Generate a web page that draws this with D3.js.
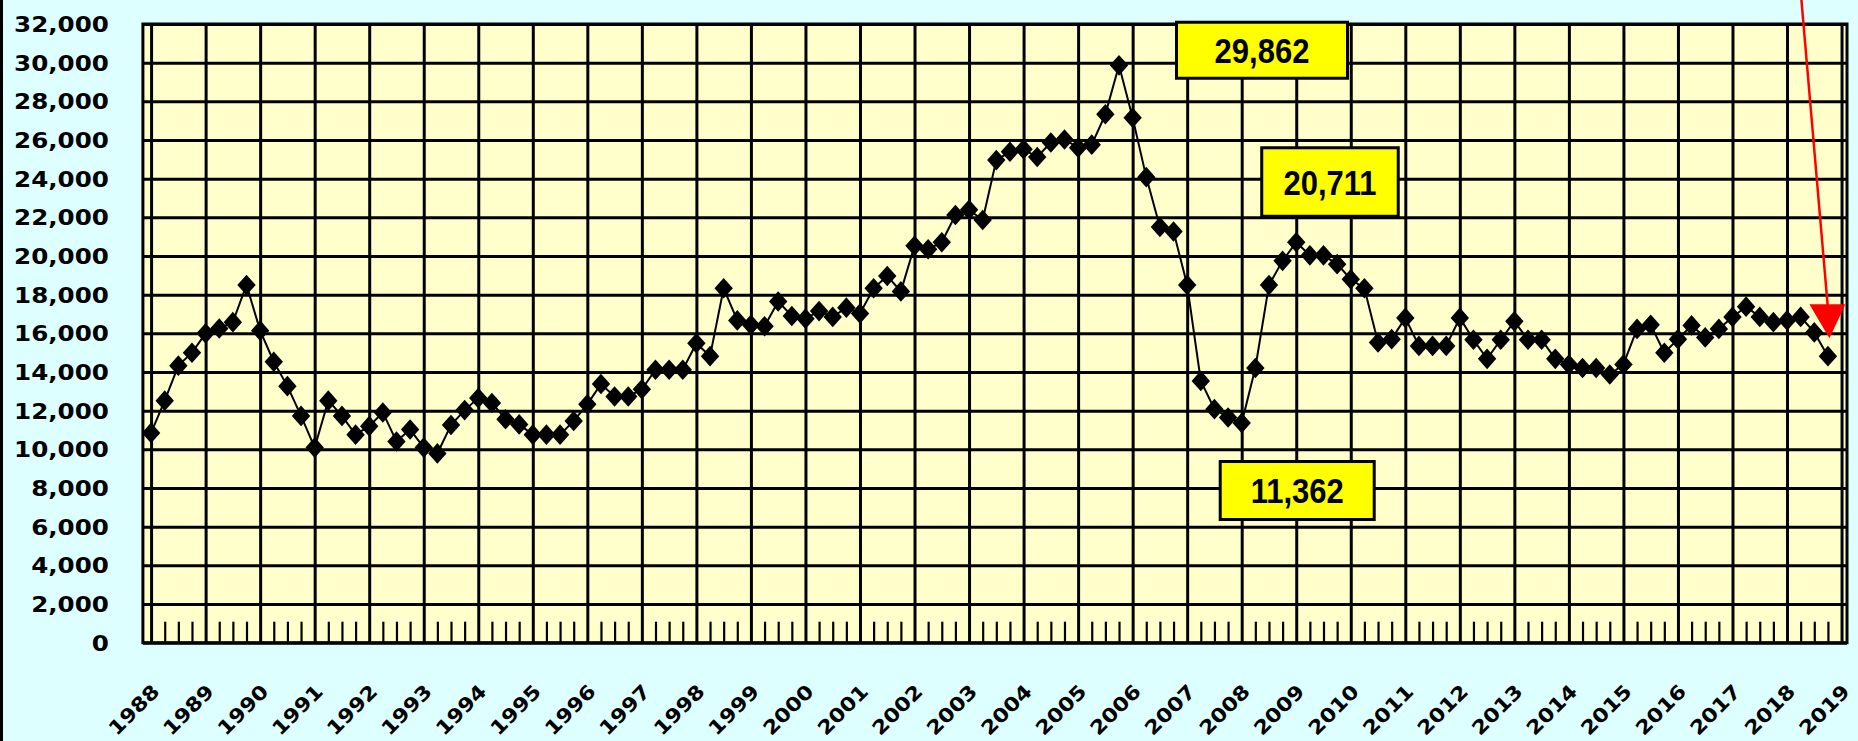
<!DOCTYPE html>
<html><head><meta charset="utf-8">
<script src="https://cdn.jsdelivr.net/npm/d3@7"></script>
<style>
html,body{margin:0;padding:0;background:#DDFFFF;overflow:hidden;}
svg{display:block;}
</style></head><body>
<svg id="chart" width="1858" height="741"></svg>
<script>
// ---- data ----
const yearLabels = ["1988","1989","1990","1991","1992","1993","1994","1995","1996","1997",
  "1998","1999","2000","2001","2002","2003","2004","2005","2006","2007","2008","2009",
  "2010","2011","2012","2013","2014","2015","2016","2017","2018","2019"];
// quarterly values, 1988 Q1 .. 2018 Q4
const values = [
  10850, 12520, 14330, 15000,
  16000, 16250, 16580, 18500,
  16140, 14530, 13270, 11730,
  10090, 12520, 11730, 10760,
  11200, 11910, 10410, 11030,
  10090,  9790, 11260, 12030,
  12650, 12400, 11560, 11290,
  10760, 10760, 10760, 11470,
  12330, 13380, 12730, 12730,
  13110, 14120, 14120, 14120,
  15490, 14820, 18330, 16670,
  16440, 16370, 17650, 16900,
  16760, 17150, 16850, 17330,
  17030, 18330, 18970, 18170,
  20530, 20350, 20710, 22120,
  22390, 21860, 24960, 25390,
  25520, 25120, 25870, 26030,
  25600, 25760, 27330, 29862,
  27150, 24080, 21500, 21270,
  18500, 13540, 12080, 11650,
  11362, 14210, 18500, 19750,
  20711, 20035, 20035, 19580,
  18800, 18330, 15530, 15700,
  16800, 15350, 15350, 15350,
  16800, 15670, 14680, 15670,
  16620, 15670, 15670, 14680,
  14390, 14210, 14210, 13870,
  14390, 16230, 16440, 15000,
  15700, 16410, 15790, 16230,
  16850, 17380, 16850, 16580,
  16670, 16850, 16050, 14820
];
const yTickValues = [0,2000,4000,6000,8000,10000,12000,14000,16000,18000,20000,22000,24000,26000,28000,30000,32000];
const calloutIndex = [71, 84, 80];
const calloutText = ["29,862", "20,711", "11,362"];

// ---- layout ----
const W = 1858, H = 741;
const plot = {left: 142.9, right: 1847, top: 24, bottom: 642.7};
const x = d3.scaleLinear().domain([-0.6, 124.4]).range([plot.left, plot.right]);
const y = d3.scaleLinear().domain([0, 32000]).range([plot.bottom, plot.top]);
const svg = d3.select("#chart");

svg.append("rect").attr("x",0).attr("y",0).attr("width",W).attr("height",H).attr("fill","#DDFFFF");
svg.append("rect").attr("x",0).attr("y",0).attr("width",3).attr("height",H).attr("fill","#000");
svg.append("rect").attr("x",plot.left).attr("y",plot.top)
  .attr("width",plot.right-plot.left).attr("height",plot.bottom-plot.top).attr("fill","#FFFFCC");

// horizontal gridlines
const hg = svg.append("g").attr("transform",`translate(${plot.left},0)`)
  .call(d3.axisLeft(y).tickValues(yTickValues).tickSize(-(plot.right-plot.left)).tickFormat(""));
hg.select(".domain").remove();
hg.selectAll("line").attr("stroke","#000").attr("stroke-width",3);

// vertical year gridlines
const yearIdx = yearLabels.map((d,k)=>k*4);
const vg = svg.append("g").attr("transform",`translate(0,${plot.top})`)
  .call(d3.axisTop(x).tickValues(yearIdx).tickSize(-(plot.bottom-plot.top)).tickFormat(""));
vg.select(".domain").remove();
vg.selectAll("line").attr("stroke","#000").attr("stroke-width",3);

// quarter minor ticks
const quarterIdx = d3.range(0,125).filter(i=>i%4!==0);
const qt = svg.append("g").attr("transform",`translate(0,${plot.bottom})`)
  .call(d3.axisBottom(x).tickValues(quarterIdx).tickSize(-21).tickFormat(""));
qt.select(".domain").remove();
qt.selectAll("line").attr("stroke","#000").attr("stroke-width",2.2);

// border
svg.append("rect").attr("x",plot.left).attr("y",plot.top)
  .attr("width",plot.right-plot.left).attr("height",plot.bottom-plot.top)
  .attr("fill","none").attr("stroke","#000").attr("stroke-width",3);

// y labels
const ya = svg.append("g").attr("transform",`translate(${plot.left},0)`)
  .call(d3.axisLeft(y).tickValues(yTickValues).tickSize(0).tickPadding(0).tickFormat(d3.format(",")));
ya.select(".domain").remove();
ya.selectAll("text")
  .attr("x",-34/1.2).attr("dy","0.36em").attr("transform","scale(1.2,1)")
  .attr("fill","#000")
  .style("font-family","'DejaVu Sans', sans-serif").style("font-weight","bold").style("font-size","20.5px");

// x labels
const xa = svg.append("g").attr("transform",`translate(0,${plot.bottom})`)
  .call(d3.axisBottom(x).tickValues(yearIdx).tickSize(0).tickFormat((d,k)=>yearLabels[k]));
xa.select(".domain").remove();
xa.selectAll("text")
  .attr("x",0).attr("y",0).attr("dy",0)
  .attr("text-anchor","end")
  .attr("transform","translate(9,50) rotate(-45)")
  .attr("textLength",62).attr("lengthAdjust","spacingAndGlyphs")
  .attr("fill","#000")
  .style("font-family","'DejaVu Sans', sans-serif").style("font-weight","bold").style("font-size","19.5px");

// series line
svg.append("path").datum(values)
  .attr("fill","none").attr("stroke","#000").attr("stroke-width",2)
  .attr("d", d3.line().x((d,i)=>x(i)).y(d=>y(d)));

// diamond markers
const diamond = {draw(ctx, size){ const r = Math.sqrt(size/2); const rx = r*0.92, ry = r*1.03;
  ctx.moveTo(0,-ry); ctx.lineTo(rx,0); ctx.lineTo(0,ry); ctx.lineTo(-rx,0); ctx.closePath(); }};
svg.append("g").selectAll("path").data(values).join("path")
  .attr("transform",(d,i)=>`translate(${x(i)},${y(d)})`)
  .attr("d", d3.symbol(diamond, 200))
  .attr("fill","#000");

// callouts
const calloutLayout = [
  {dx: 56, dy: -44.6, w: 174, h: 59},
  {dx: -36, dy: -96, w: 139.5, h: 71.5},
  {dx: -23, dy: 37, w: 157, h: 61}
];
calloutIndex.forEach((idx,k)=>{
  const px = x(idx), py = y(values[idx]);
  const L = calloutLayout[k];
  const bx = px + L.dx, by = py + L.dy;
  const g = svg.append("g");
  g.append("rect").attr("x",bx+1.5).attr("y",by+1.5).attr("width",L.w-3).attr("height",L.h-3)
    .attr("fill","#FFFF00").attr("stroke","#000").attr("stroke-width",3);
  g.append("text").attr("transform",`translate(${bx+L.w/2},${by+L.h/2}) scale(1,1.15)`)
    .attr("text-anchor","middle").attr("dy","0.36em")
    .attr("fill","#000")
    .style("font-family","'Liberation Sans', Arial, sans-serif").style("font-weight","bold").style("font-size","31px")
    .text(calloutText[k]);
});

// red arrow pointing to last point
const last = values.length - 1;
const tipX = x(last) + 1.5, tipY = y(values[last]) - 18;
svg.append("line").attr("x1", tipX - 28).attr("y1", 0).attr("x2", tipX - 1.5).attr("y2", tipY - 30)
  .attr("stroke","#FF0000").attr("stroke-width",2.5);
svg.append("path")
  .attr("d", `M${tipX-20},${tipY-34}L${tipX+16},${tipY-34}L${tipX},${tipY}Z`)
  .attr("fill","#FF0000");
</script>
</body></html>
